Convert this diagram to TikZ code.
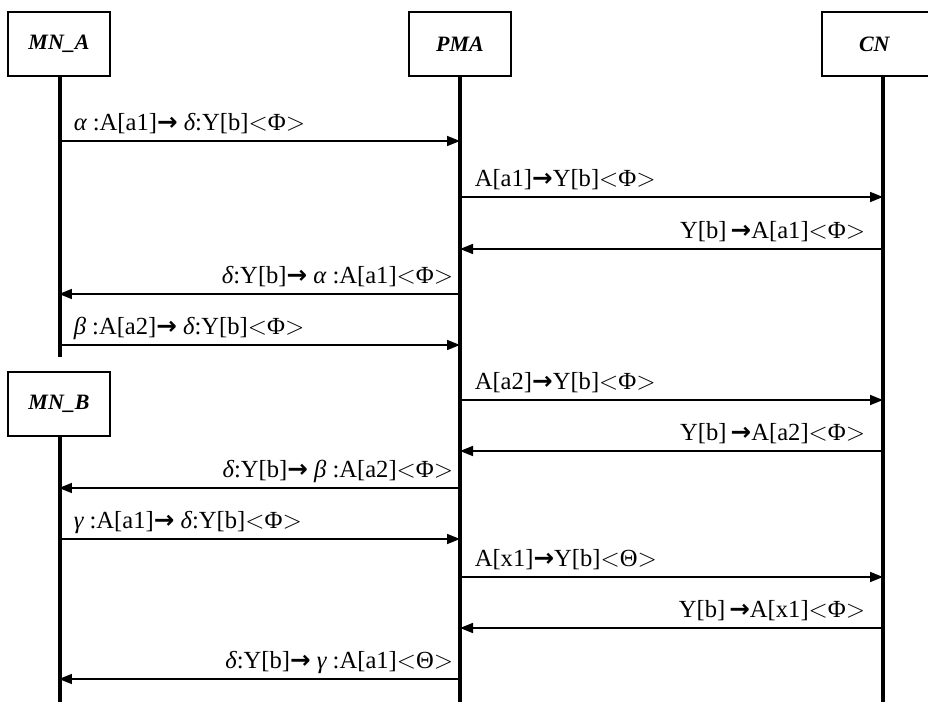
\documentclass[tikz,border=0pt]{standalone}
\usepackage{fontspec}
\setmainfont{Liberation Serif}
\newfontfamily\arrowfont{DejaVu Sans}
\usetikzlibrary{arrows.meta}
\tikzstyle{chart} = [x = .02cm, y = -.02cm]
\tikzstyle{lifeBox} = [draw, line width=1.3pt, fill=white, minimum width=2.04cm, minimum height=1.28cm, font=\fontsize{12.5}{15}\selectfont\bfseries\itshape]
\tikzstyle{lifeLine} = [line width=1.8pt]
\tikzstyle{msgLine} = [line width=.9pt, -{Triangle[length=2.6mm, width=2mm]}]
\tikzstyle{msgText} = [font=\fontsize{14}{16}\selectfont, inner sep=0pt]
\newcommand{\gA}{{\itshape α}}
\newcommand{\gB}{{\itshape β}}
\newcommand{\gC}{{\itshape γ}}
\newcommand{\gD}{{\itshape δ}}
\newcommand{\ar}{{\arrowfont\bfseries →}}
\newcommand{\tagPhi}{$<$Φ$>$}
\newcommand{\tagTheta}{$<$Θ$>$}
\newcommand{\msgRight}[4]{\draw [msgLine] (#1 |- 0,#3) -- (#2 |- 0,#3) node [msgText, pos=0, anchor=base west, xshift=.28cm, yshift=.21cm] {#4};}
\newcommand{\msgLeft}[5]{\draw [msgLine] (#1 |- 0,#3) -- (#2 |- 0,#3) node [msgText, pos=0, anchor=base east, xshift=-#4, yshift=.21cm] {#5};}

\begin{document}
\begin{tikzpicture}[chart]
  \useasboundingbox (0,0) rectangle (928,702);
  % lifelines
  \draw [lifeLine] (60,44) -- (60,357);
  \draw [lifeLine] (60,404) -- (60,702);
  \draw [lifeLine] (460,44) -- (460,702);
  \draw [lifeLine] (883,44) -- (883,702);
  % boxes
  \node [lifeBox] (mnA) at (59,44) {MN\_A};
  \node [lifeBox] (pma) at (460,44) {PMA};
  \begin{scope}
    \clip (0,0) rectangle (928,702);
    \node [lifeBox, minimum width=2.44cm] (cn) at (883,44) {\hspace*{-.35cm}CN};
  \end{scope}
  \node [lifeBox] (mnB) at (59,404) {MN\_B};
  % messages
  \msgRight{mnA}{pma}{141}{\gA\ :A[a1]\ar\ \gD:Y[b]\tagPhi}
  \msgRight{pma}{cn}{197}{A[a1]\ar Y[b]\tagPhi}
  \msgLeft{cn}{pma}{249}{.34cm}{Y[b]\,\ar A[a1]\tagPhi}
  \msgLeft{pma}{mnA}{294}{.12cm}{\gD:Y[b]\ar\ \gA\ :A[a1]\tagPhi}
  \msgRight{mnA}{pma}{345}{\gB\ :A[a2]\ar\ \gD:Y[b]\tagPhi}
  \msgRight{pma}{cn}{400}{A[a2]\ar Y[b]\tagPhi}
  \msgLeft{cn}{pma}{451}{.34cm}{Y[b]\,\ar A[a2]\tagPhi}
  \msgLeft{pma}{mnB}{488}{.12cm}{\gD:Y[b]\ar\ \gB\ :A[a2]\tagPhi}
  \msgRight{mnB}{pma}{539}{\gC\ :A[a1]\ar\ \gD:Y[b]\tagPhi}
  \msgRight{pma}{cn}{577}{A[x1]\ar Y[b]\tagTheta}
  \msgLeft{cn}{pma}{628}{.34cm}{Y[b]\,\ar A[x1]\tagPhi}
  \msgLeft{pma}{mnB}{679}{.12cm}{\gD:Y[b]\ar\ \gC\ :A[a1]\tagTheta}
\end{tikzpicture}
\end{document}
